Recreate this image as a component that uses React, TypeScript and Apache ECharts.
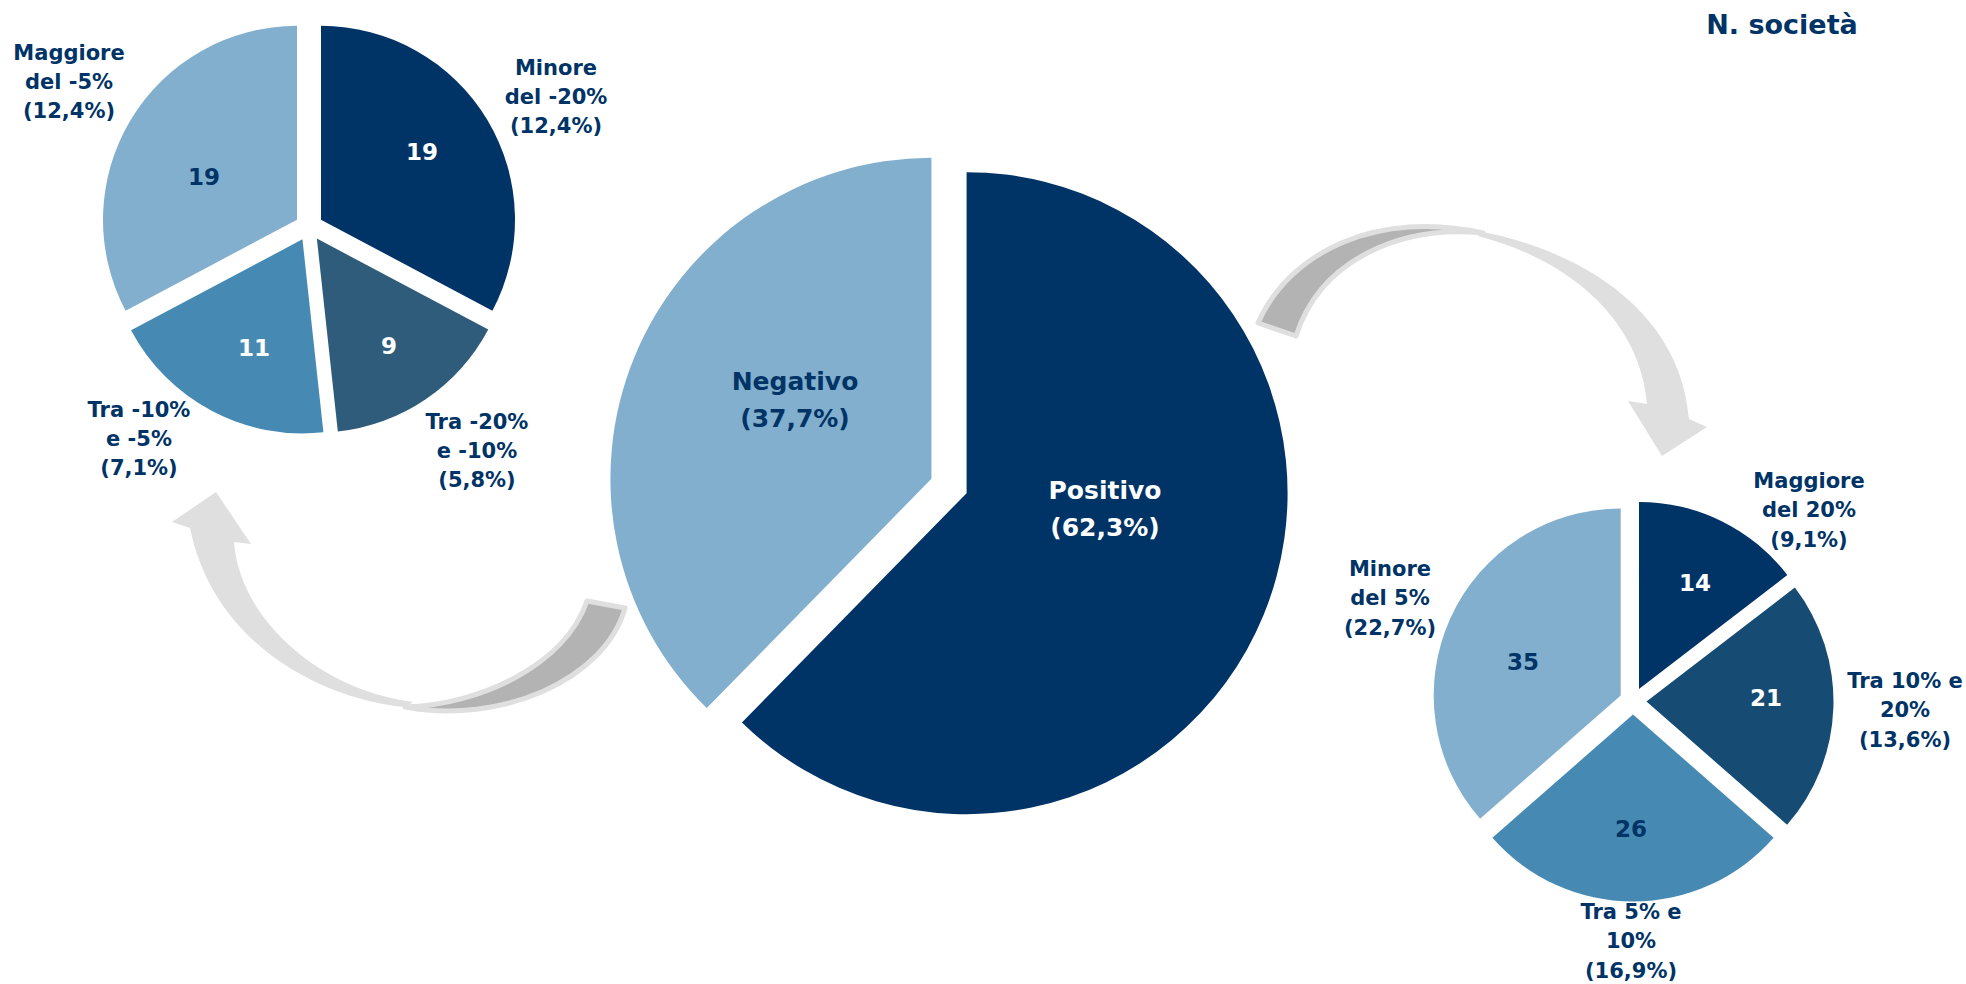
import React, { useEffect, useRef } from 'react';
import * as echarts from 'echarts';

// ---------- DATA ----------
const mainCategories = ['Positivo', 'Negativo'];
const mainValues = [96, 58];
const mainPercents = ['62,3%', '37,7%'];

const negCategories = ['Minore\ndel -20%', 'Tra -20%\ne -10%', 'Tra -10%\ne -5%', 'Maggiore\ndel -5%'];
const negValues = [19, 9, 11, 19];
const negPercents = ['12,4%', '5,8%', '7,1%', '12,4%'];

const posCategories = ['Maggiore\ndel 20%', 'Tra 10% e\n20%', 'Tra 5% e\n10%', 'Minore\ndel 5%'];
const posValues = [14, 21, 26, 35];
const posPercents = ['9,1%', '13,6%', '16,9%', '22,7%'];

const unitTitle = 'N. società';

// ---------- STYLE / LAYOUT ----------
const NAVY = '#003366';
const WHITE = '#ffffff';
const FONT = "'DejaVu Sans', sans-serif";

const mainColors = [NAVY, '#82AFCD'];
const negColors = [NAVY, '#2F5C7B', '#468AB4', '#82AFCD'];
const posColors = [NAVY, '#164B73', '#468AB4', '#82AFCD'];

const mainLayout = { center: [949, 486], radius: 321, offset: 19 };
const negLayout = { center: [309, 227], radius: 194, offset: 14 };
const posLayout = { center: [1633, 701], radius: 187, offset: 13.5 };

const mainLabelPos = [[1105, 509], [795, 400]];
const mainLabelColors = [WHITE, NAVY];

const negLabelPos = [[556, 97], [477, 451], [139, 439], [69, 82]];
const negNumPos = [[422, 152], [389, 346], [254, 348], [204, 177]];
const negNumColors = [WHITE, WHITE, WHITE, NAVY];

const posLabelPos = [[1809, 510], [1905, 710], [1631, 941], [1390, 598]];
const posNumPos = [[1695, 583], [1766, 698], [1631, 829], [1523, 662]];
const posNumColors = [WHITE, WHITE, NAVY, NAVY];

const ARROW_LIGHT = '#DFDFDF';
const ARROW_DARK = '#B3B3B3';

const arrow1Front = 'M 405 707 C 330 700 215 650 190 528 L 172 522 L 216 492 L 251 544 L 234 542 C 240 620 320 690 413 702 Z';
const arrow1Back = 'M 587 601 L 625 608 C 605 680 500 725 405 707 C 480 705 565 665 587 601 Z';
const arrow2Front = 'M 1478 231 C 1580 250 1680 310 1689 419 L 1707 427 L 1662 456 L 1628 401 L 1647 404 C 1640 320 1570 260 1478 236 Z';
const arrow2Back = 'M 1258 323 C 1290 250 1380 210 1483 233 C 1400 225 1320 260 1296 336 Z';

function pieSeries(values: number[], names: string[], colors: string[], layout: any) {
  return {
    type: 'pie',
    center: layout.center,
    radius: layout.radius,
    startAngle: 90,
    clockwise: true,
    selectedMode: 'multiple',
    selectedOffset: layout.offset,
    silent: true,
    z: 5,
    label: { show: false },
    labelLine: { show: false },
    emphasis: { disabled: true },
    data: values.map((v, i) => ({
      value: v,
      name: names[i],
      selected: true,
      itemStyle: { color: colors[i], borderWidth: 0 },
      select: { itemStyle: { color: colors[i], borderWidth: 0 } },
    })),
  };
}

function textEl(text: string, pos: number[], color: string, size: number, lineHeight: number) {
  return {
    type: 'text',
    x: pos[0],
    y: pos[1],
    z: 100,
    silent: true,
    style: {
      text,
      fill: color,
      fontSize: size,
      fontWeight: 'bold',
      fontFamily: FONT,
      align: 'center',
      verticalAlign: 'middle',
      textAlign: 'center',
      textVerticalAlign: 'middle',
      lineHeight,
    },
  };
}

export default function App() {
  const ref = useRef<HTMLDivElement>(null);

  useEffect(() => {
    document.body.style.margin = '0';
    if (!ref.current) return;

    echarts.graphic.registerShape('arrow1Front', echarts.graphic.extendPath(arrow1Front, {}));
    echarts.graphic.registerShape('arrow1Back', echarts.graphic.extendPath(arrow1Back, {}));
    echarts.graphic.registerShape('arrow2Front', echarts.graphic.extendPath(arrow2Front, {}));
    echarts.graphic.registerShape('arrow2Back', echarts.graphic.extendPath(arrow2Back, {}));

    const chart = echarts.init(ref.current, undefined, { renderer: 'svg' });

    const texts: any[] = [];
    mainCategories.forEach((c, i) => {
      texts.push(textEl(`${c}\n(${mainPercents[i]})`, mainLabelPos[i], mainLabelColors[i], 25, 37));
    });
    negCategories.forEach((c, i) => {
      texts.push(textEl(`${c}\n(${negPercents[i]})`, negLabelPos[i], NAVY, 21, 29));
      texts.push(textEl(String(negValues[i]), negNumPos[i], negNumColors[i], 23, 28));
    });
    posCategories.forEach((c, i) => {
      texts.push(textEl(`${c}\n(${posPercents[i]})`, posLabelPos[i], NAVY, 21, 29.5));
      texts.push(textEl(String(posValues[i]), posNumPos[i], posNumColors[i], 23, 28));
    });
    texts.push(textEl(unitTitle, [1782, 24], NAVY, 27, 32));

    const arrows = [
      { type: 'arrow1Front', x: 0, y: 0, z: 1, silent: true, style: { fill: ARROW_LIGHT } },
      { type: 'arrow1Back', x: 0, y: 0, z: 2, silent: true, style: { fill: ARROW_DARK, stroke: ARROW_LIGHT, lineWidth: 5, lineJoin: 'round' } },
      { type: 'arrow2Front', x: 0, y: 0, z: 1, silent: true, style: { fill: ARROW_LIGHT } },
      { type: 'arrow2Back', x: 0, y: 0, z: 2, silent: true, style: { fill: ARROW_DARK, stroke: ARROW_LIGHT, lineWidth: 5, lineJoin: 'round' } },
    ];

    chart.setOption({
      animation: false,
      backgroundColor: '#ffffff',
      series: [
        pieSeries(mainValues, mainCategories, mainColors, mainLayout),
        pieSeries(negValues, negCategories, negColors, negLayout),
        pieSeries(posValues, posCategories, posColors, posLayout),
      ],
      graphic: { elements: [...arrows, ...texts] },
    });

    return () => {
      chart.dispose();
    };
  }, []);

  return <div ref={ref} style={{ width: 1966, height: 984 }} />;
}
